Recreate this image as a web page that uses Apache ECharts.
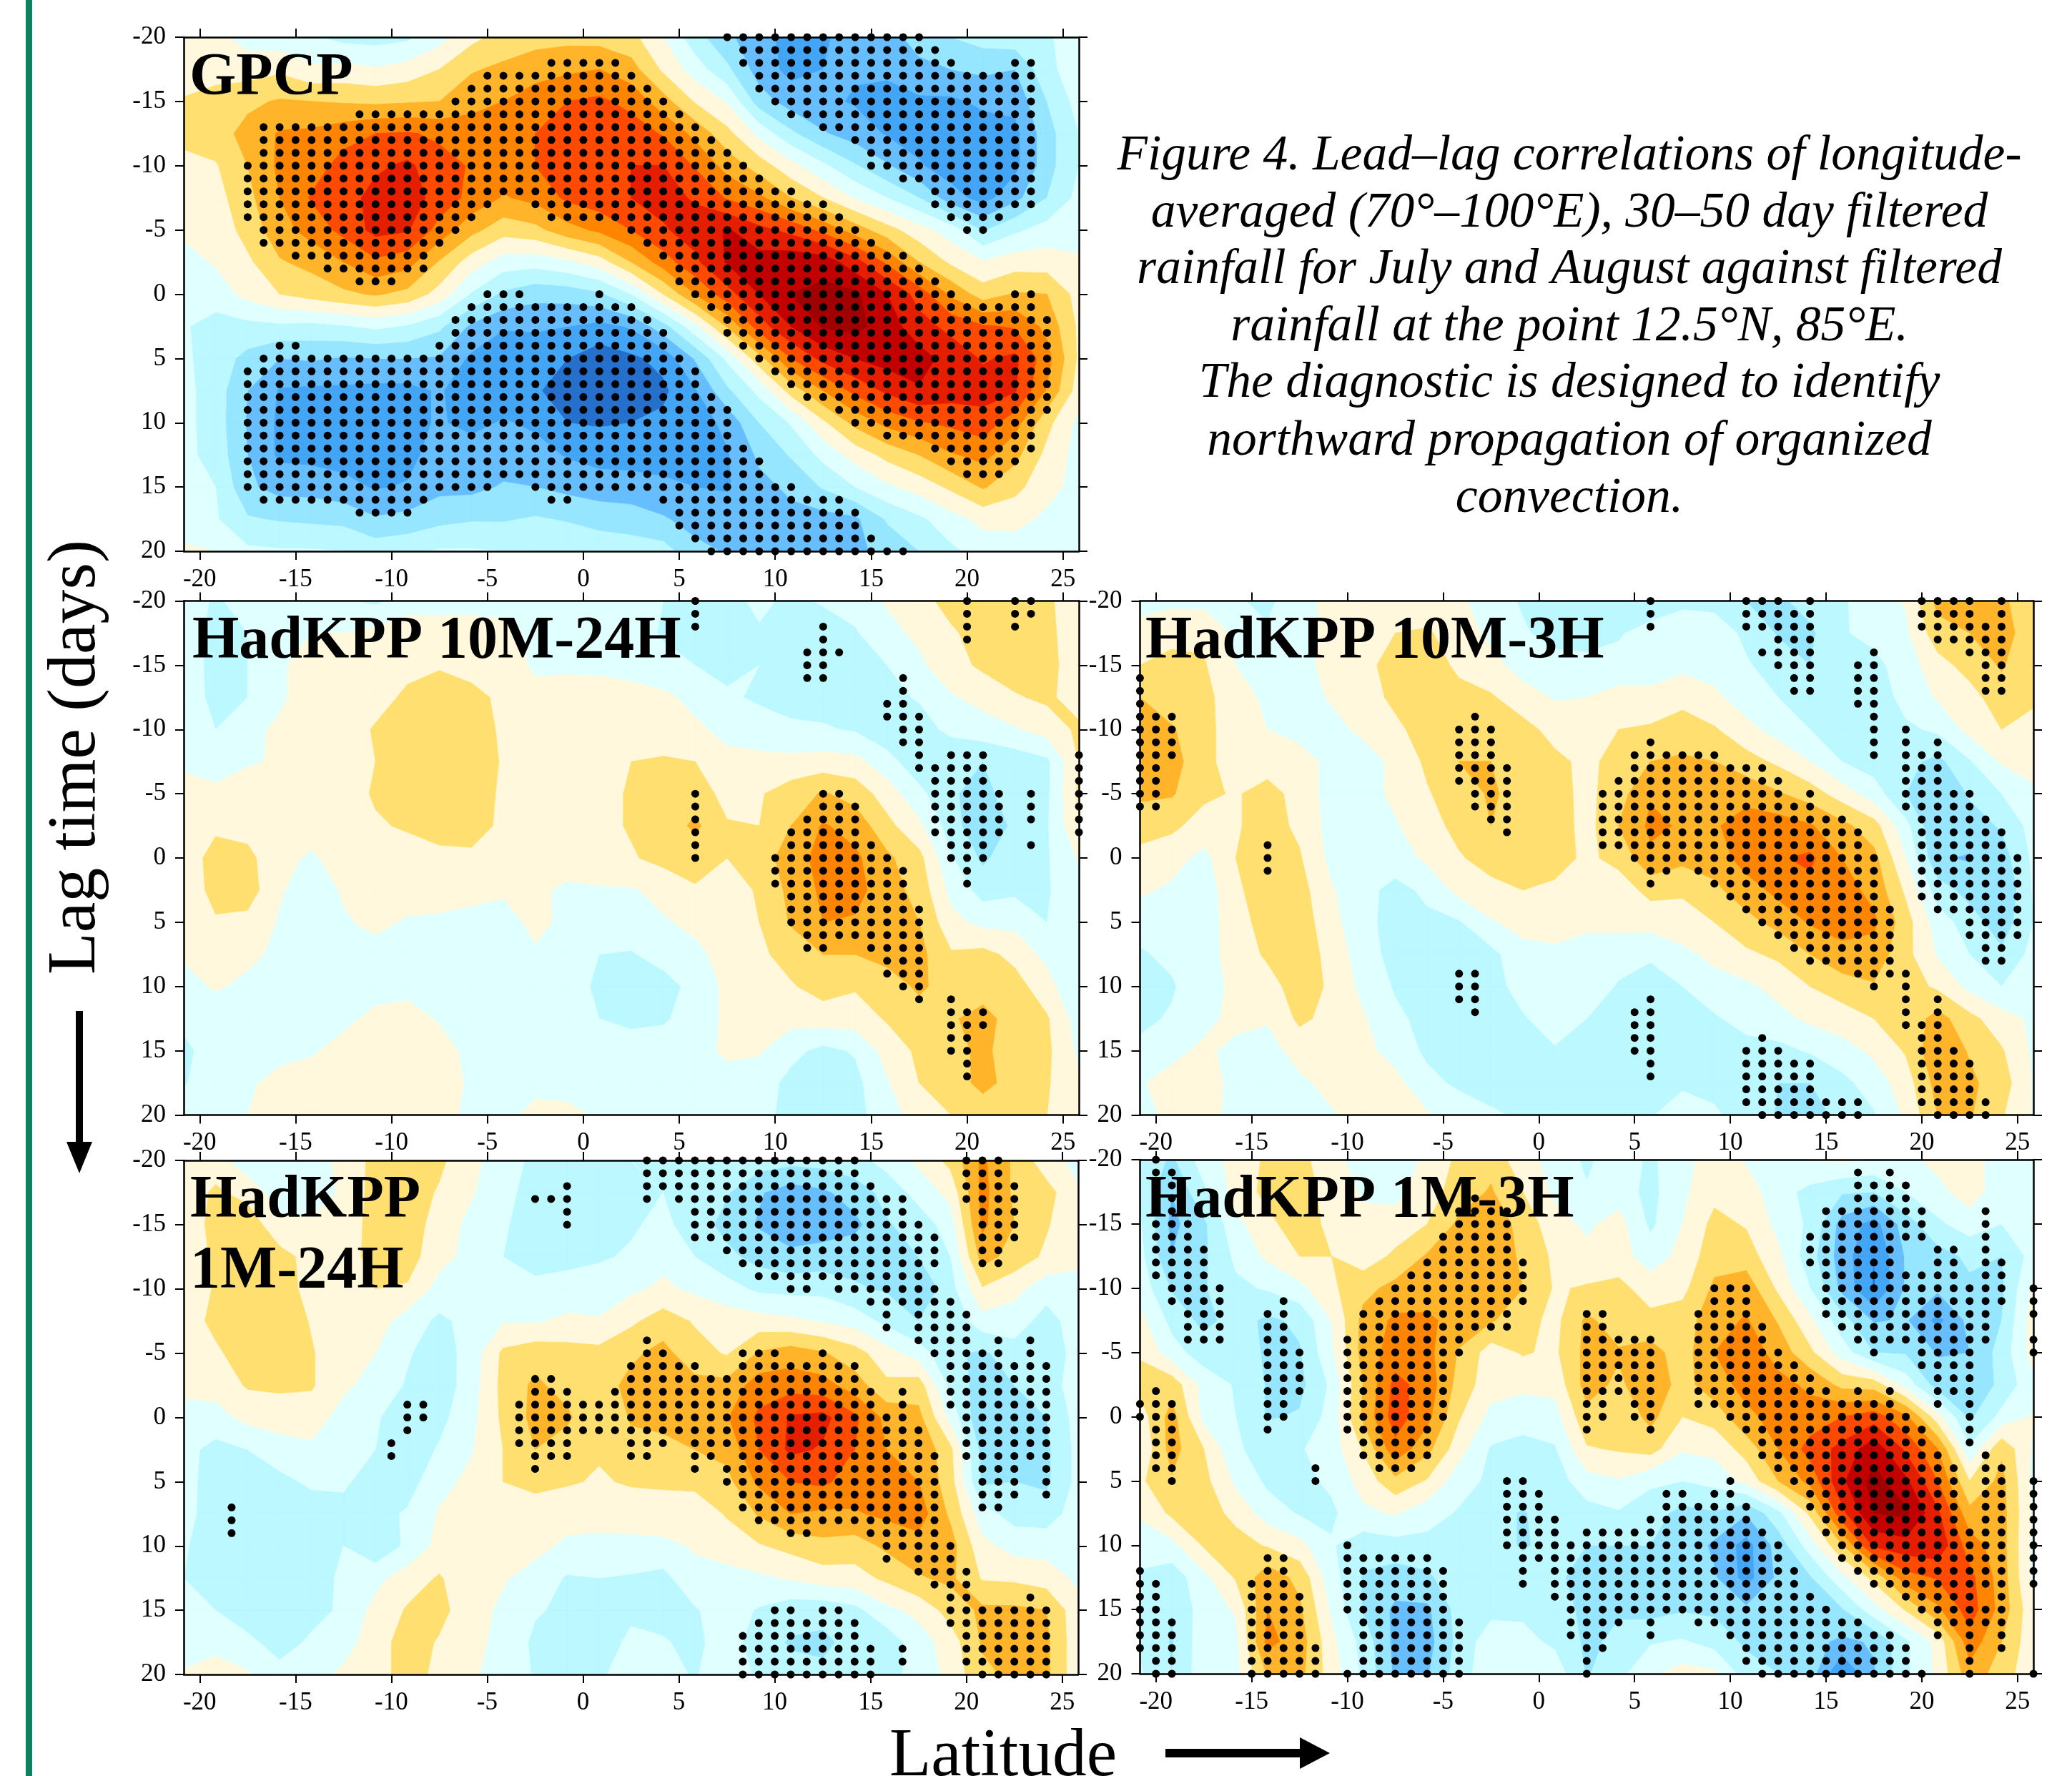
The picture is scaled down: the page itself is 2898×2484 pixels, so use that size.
<!DOCTYPE html>
<html><head><meta charset="utf-8">
<style>html,body{margin:0;padding:0;background:#fff}#c{width:2898px;height:2484px}</style>
<script src="https://cdn.jsdelivr.net/npm/echarts@6/dist/echarts.min.js"></script>
</head><body><div id="c"></div>
<script>
// Axis ticks
const latTicks = [-20,-15,-10,-5,0,5,10,15,20,25];
const lagTicks = [-20,-15,-10,-5,0,5,10,15,20];
// Contour grid coordinates
const gridLats = [-20.83,-19.17,-17.5,-15.83,-14.17,-12.5,-10.83,-9.17,-7.5,-5.83,-4.17,-2.5,-0.83,0.83,2.5,4.17,5.83,7.5,9.17,10.83,12.5,14.17,15.83,17.5,19.17,20.83,22.5,24.17,25.83];
const gridLags = [-20,-17.5,-15,-12.5,-10,-7.5,-5,-2.5,0,2.5,5,7.5,10,12.5,15,17.5,20];
// Correlation x 100, one row per lag in gridLags, one value per latitude in gridLats
const gpcpValues = [
[5,3,-4,-6,-9,-13,-14,-12,-4,7,14,16,17,16,13,0,-16,-28,-36,-44,-41,-37,-33,-27,-20,-16,-14,-11,-6],
[4,6,5,8,2,3,1,4,10,19,22,26,28,30,24,8,-5,-18,-35,-43,-40,-39,-38,-32,-30,-28,-30,-13,-4],
[11,14,18,21,20,19,18,19,20,26,30,35,40,42,37,24,9,-1,-25,-35,-38,-41,-44,-42,-42,-38,-37,-20,-6],
[13,16,23,31,32,36,40,41,38,36,37,40,46,48,45,39,27,13,-3,-18,-29,-35,-41,-44,-45,-45,-43,-24,-10],
[7,9,20,32,35,44,48,52,44,39,36,40,47,49,50,50,39,26,15,3,-8,-19,-29,-39,-45,-46,-43,-24,-10],
[4,6,17,30,41,45,54,55,46,37,29,33,42,46,50,53,49,39,32,20,10,-1,-10,-20,-36,-44,-33,-20,-7],
[2,3,14,26,34,43,53,51,36,23,14,17,26,32,40,49,54,61,53,47,37,25,14,4,-5,-21,-12,-6,-3],
[-4,1,8,19,23,30,38,34,19,5,-5,-6,-2,5,20,35,48,61,64,67,66,54,38,20,8,1,5,5,1],
[-8,-5,3,10,14,18,21,17,6,-11,-22,-27,-26,-22,-10,10,30,46,60,70,73,72,60,46,28,15,21,20,6],
[-9,-14,-13,-12,-13,-11,-8,-11,-18,-32,-39,-38,-40,-43,-39,-24,-3,21,45,60,71,73,65,54,47,41,39,27,8],
[-8,-15,-23,-30,-29,-31,-30,-30,-31,-42,-47,-49,-50,-56,-52,-47,-29,-8,16,40,53,60,64,64,56,49,52,34,8],
[-7,-15,-30,-41,-42,-42,-43,-43,-39,-46,-48,-49,-54,-57,-56,-52,-41,-22,-7,14,30,43,52,59,55,54,51,29,5],
[-7,-15,-31,-42,-42,-43,-43,-43,-39,-43,-39,-42,-50,-51,-50,-48,-46,-37,-20,-9,8,23,33,39,42,46,34,13,-3],
[-7,-14,-30,-42,-43,-44,-45,-44,-34,-35,-35,-36,-41,-44,-44,-44,-44,-41,-28,-19,-7,4,13,20,29,33,23,7,-4],
[-5,-10,-28,-34,-34,-37,-41,-39,-33,-33,-29,-30,-33,-35,-36,-38,-40,-41,-33,-28,-19,-10,-2,4,12,21,13,3,-3],
[-3,-9,-19,-21,-22,-23,-29,-27,-23,-21,-21,-19,-21,-24,-25,-29,-34,-35,-33,-33,-34,-32,-19,-12,-4,3,3,-2,-4],
[1,0,-8,-9,-9,-10,-14,-12,-9,-9,-10,-10,-11,-13,-15,-16,-27,-31,-33,-34,-35,-33,-26,-20,-12,-6,-5,-4,-4]];
const had10m24hValues = [
[-6,-11,-7,-5,-4,-9,-12,-5,-5,-4,-4,-3,-3,-4,-5,-10,-13,-13,-8,-12,-9,-6,1,5,15,17,20,12,3],
[-5,-13,-10,-2,0,0,3,6,6,5,3,-2,-2,-3,-6,-11,-14,-14,-11,-12,-15,-11,-3,2,8,16,12,13,3],
[-5,-13,-10,-1,3,3,5,7,9,5,3,-1,-2,-3,-5,-7,-10,-14,-10,-13,-15,-13,-10,-2,6,12,15,14,3],
[-4,-13,-10,-2,6,2,6,12,15,14,7,2,5,6,5,2,-3,-8,-12,-12,-14,-11,-13,-9,-1,3,9,12,5],
[-3,-10,-3,2,5,5,11,14,16,16,8,3,5,6,7,5,2,-3,-4,-9,-9,-11,-17,-15,-7,-4,-1,4,12],
[-2,-4,-1,1,4,5,10,15,17,16,9,2,5,6,10,11,10,3,2,3,4,3,-6,-17,-20,-20,-16,-12,10],
[4,2,5,3,4,6,11,16,18,16,8,5,6,7,11,13,16,6,9,15,21,16,5,-7,-19,-23,-15,-12,12],
[7,9,6,2,3,5,9,11,13,16,7,5,6,7,11,14,22,11,10,20,31,26,13,2,-15,-30,-17,-11,9],
[7,12,13,2,-1,3,5,6,8,7,4,4,5,6,9,13,14,10,14,26,33,32,22,13,-9,-22,-13,-11,1],
[4,13,15,1,-5,1,2,4,5,3,1,2,-2,-1,-1,3,9,6,11,23,32,33,25,16,-3,-14,-12,-11,-3],
[2,9,7,-1,-5,-1,2,-1,-2,-3,-3,2,-2,-3,-3,-1,2,5,10,21,30,29,22,20,3,-3,-3,-10,-4],
[1,3,2,-2,-7,-3,-3,-4,-3,-3,-3,-1,-3,-10,-11,-5,-2,3,8,14,20,20,24,23,11,13,7,-3,-9],
[-3,1,-2,-4,-9,-4,-3,-3,-3,-3,-3,-1,-3,-13,-13,-15,-6,2,6,9,14,11,14,22,15,16,14,4,-10],
[-8,-5,-3,-3,-3,-2,2,4,-1,-3,-3,-1,-3,-10,-13,-12,-3,1,4,3,5,5,11,15,19,23,16,11,-5],
[-12,-6,-3,-2,-1,3,5,7,4,-3,-3,-1,-3,-3,-4,-2,-2,1,1,-7,-13,-9,4,12,17,22,15,12,-2],
[-11,-3,-1,2,4,6,5,8,6,-2,-2,-1,-3,-4,-3,-2,-1,-2,-5,-13,-16,-13,-1,10,15,23,16,11,1],
[-3,-1,0,4,5,6,6,6,3,-2,-1,1,2,-1,-2,-1,0,-4,-7,-13,-15,-14,-3,3,10,14,11,10,2]];
const had10m3hValues = [
[-4,-3,-3,-9,-12,-4,3,4,5,5,2,-6,-11,-12,-12,-13,-17,-13,-13,-20,-22,-16,-11,-6,1,23,22,22,13],
[4,9,8,-2,-9,-3,2,5,10,11,6,-3,-9,-13,-13,-11,-6,-2,-5,-12,-21,-22,-11,-7,-2,16,20,25,13],
[10,11,11,0,-10,-3,3,7,14,15,8,4,-5,-7,-8,-7,-9,-3,-4,-9,-14,-20,-11,-13,-5,6,14,21,12],
[20,14,13,4,-2,-4,1,6,12,14,13,11,5,-1,0,4,5,8,2,-5,-10,-19,-12,-17,-6,1,6,16,11],
[21,21,13,5,0,-5,-3,2,8,14,17,17,13,7,2,10,11,13,11,3,-4,-10,-13,-20,-12,-8,3,10,8],
[21,24,13,5,5,6,-4,-4,2,12,20,20,16,12,8,13,20,22,20,14,8,0,-10,-15,-17,-23,-11,1,4],
[22,21,12,9,14,6,-4,-4,2,9,16,21,17,14,7,16,29,27,26,27,21,15,5,-5,-20,-30,-19,-10,-2],
[14,12,6,9,14,8,-4,-6,-1,6,13,20,18,16,6,20,32,29,29,34,35,31,23,14,-7,-30,-24,-19,-6],
[7,4,-3,10,14,11,-3,-7,-5,2,9,14,16,14,8,13,28,23,24,35,39,42,30,23,0,-29,-31,-25,-8],
[2,-2,-7,9,13,14,1,-7,-13,-8,3,7,10,8,5,5,13,11,18,25,33,37,34,27,8,-15,-24,-30,-9],
[-7,-4,-8,8,12,16,3,-7,-14,-12,-11,-1,3,4,1,3,4,7,10,17,23,31,34,32,14,-5,-15,-26,-10],
[-11,-8,-3,3,12,17,6,-5,-14,-15,-15,-13,-3,-2,-2,-6,-9,-3,3,8,12,20,27,26,13,-1,-10,-18,-7],
[-14,-11,-4,2,5,16,8,-3,-11,-16,-19,-14,-6,-3,-4,-11,-13,-10,-5,-2,3,10,15,19,15,8,-3,-10,-4],
[-12,-9,-3,3,1,12,7,1,-8,-13,-16,-16,-11,-5,-10,-13,-19,-13,-11,-7,-3,2,5,10,13,24,13,4,-2],
[-8,-3,2,-3,-4,4,8,3,-4,-12,-15,-15,-15,-11,-12,-15,-18,-13,-13,-13,-13,-9,-4,2,11,28,19,11,-2],
[-1,4,6,-4,-3,-2,3,5,3,-7,-12,-13,-13,-12,-12,-13,-15,-12,-12,-15,-20,-20,-13,-5,5,24,22,15,-1],
[-4,3,5,-4,-3,-4,-1,4,5,1,-4,-9,-11,-12,-11,-12,-11,-4,-9,-13,-21,-23,-18,-11,2,20,21,11,-1]];
const had1m24hValues = [
[4,4,-6,-7,-5,3,13,17,12,3,-6,-12,-13,-13,-10,-11,-12,-13,-15,-17,-16,-14,-6,2,13,32,18,4,-3],
[3,12,6,-5,-7,2,14,15,9,1,-7,-14,-15,-16,-11,-10,-13,-19,-29,-35,-32,-25,-17,-6,3,33,18,14,1],
[4,13,17,2,2,4,14,15,6,-3,-9,-14,-15,-16,-11,-8,-14,-24,-31,-35,-35,-33,-21,-16,-5,32,20,11,2],
[3,12,18,14,6,5,14,14,4,-4,-10,-13,-13,-11,-9,-3,-10,-17,-24,-28,-26,-23,-26,-20,-10,24,16,8,2],
[3,11,18,17,5,3,10,9,-4,-8,-8,-8,-6,-6,-2,2,-2,-6,-12,-13,-13,-19,-21,-29,-14,9,3,-6,-3],
[4,13,18,18,9,3,5,-5,-12,-7,-1,-1,2,1,8,15,9,5,4,2,-1,-4,-13,-20,-18,-4,-5,-14,-5],
[3,8,16,17,11,2,0,-9,-15,-6,12,16,14,13,18,23,14,9,21,25,21,14,4,-5,-18,-22,-14,-15,-7],
[2,4,11,12,11,2,-4,-11,-16,-5,13,22,16,15,23,24,23,23,35,36,34,25,12,15,-13,-25,-20,-13,-7],
[-3,-4,3,4,5,-4,-9,-15,-13,-3,12,23,22,10,21,22,24,29,42,51,53,42,27,23,-3,-30,-23,-20,-6],
[-7,-13,-10,-4,-2,-5,-10,-16,-9,-1,10,20,14,11,17,18,20,23,40,52,49,40,30,29,12,-24,-28,-22,-7],
[-7,-14,-13,-13,-8,-9,-13,-14,-4,3,10,14,11,9,11,11,13,17,32,40,42,35,31,30,14,-22,-20,-22,-7],
[-8,-13,-15,-15,-16,-12,-13,-9,1,4,8,3,4,4,5,7,3,11,21,30,28,29,32,35,18,-6,-14,-15,-5],
[-9,-15,-17,-16,-14,-10,-18,-8,3,4,4,3,-2,-3,-3,-3,1,4,9,13,17,15,22,26,24,3,-4,-4,-4],
[-10,-14,-17,-15,-15,-8,-3,5,11,3,1,-4,-11,-10,-11,-13,-3,-3,-2,1,5,6,12,19,22,9,8,5,-2],
[-7,-10,-17,-19,-14,-8,3,11,13,4,-2,-9,-12,-14,-12,-14,-11,-5,-11,-16,-17,-13,-3,3,14,22,22,20,3],
[-5,-3,-7,-15,-8,-4,5,15,9,3,-3,-12,-14,-15,-8,-9,-13,-4,-16,-21,-22,-17,-16,-5,5,21,21,22,3],
[1,4,1,-6,-4,2,5,15,7,1,-3,-11,-13,-12,-4,-6,-11,-3,-12,-17,-18,-15,-13,-7,3,18,22,22,3]];
const had1m3hValues = [
[-11,-22,-5,3,12,13,4,-6,-8,3,12,17,3,-3,-12,-4,-12,-3,4,-1,-2,0,2,-1,-3,3,4,-5,-3],
[-11,-30,-12,4,13,16,5,-1,-3,5,15,21,10,-2,-9,-5,-13,-2,7,5,-6,-13,-19,-20,-10,-3,5,-6,-5],
[-9,-33,-22,-3,7,16,7,2,4,10,22,27,16,4,-2,4,-12,0,13,9,-3,-12,-34,-44,-25,-12,-5,-10,-6],
[-7,-30,-22,-8,2,10,10,4,12,21,24,27,18,8,3,4,-5,3,16,15,2,-16,-35,-50,-29,-24,-18,-20,-6],
[-4,-21,-21,-12,-9,-3,8,17,23,24,25,26,20,9,11,13,5,7,22,26,8,-10,-33,-51,-29,-28,-22,-22,2],
[3,-13,-23,-16,-22,-18,0,23,32,32,26,21,14,7,22,15,13,15,26,31,19,2,-16,-31,-29,-43,-27,-20,5],
[9,-6,-15,-13,-22,-21,-2,24,35,33,19,5,11,8,23,21,24,15,30,36,26,12,-5,-20,-21,-31,-30,-16,4],
[13,16,-4,-11,-21,-23,-8,20,43,36,16,4,2,3,24,18,27,16,26,33,33,28,17,15,-4,-25,-30,-17,-3],
[5,24,-3,-10,-21,-19,-6,22,45,33,11,-3,-5,-4,17,12,23,10,14,28,33,34,40,45,32,4,-22,-7,1],
[1,24,10,-9,-13,-11,-5,11,37,23,4,-11,-14,-11,9,11,14,1,3,14,30,44,53,66,48,30,-8,18,-2],
[8,19,13,-2,-12,-13,-8,4,17,9,-6,-12,-14,-15,-4,-1,-8,-10,-7,3,20,33,58,74,62,40,10,23,-3],
[1,12,15,7,-5,-11,-12,-2,1,-6,-11,-16,-21,-14,-14,-11,-16,-23,-21,-29,-13,12,47,70,72,52,23,24,-2],
[-4,-3,11,14,9,3,-9,-16,-14,-13,-12,-16,-21,-17,-20,-20,-20,-23,-32,-44,-26,-5,19,52,56,57,35,24,-3],
[-12,-16,-3,11,26,17,-6,-21,-25,-22,-13,-14,-16,-19,-22,-21,-26,-23,-29,-44,-28,-21,-3,13,36,41,43,25,-3],
[-13,-20,-5,1,30,22,-2,-21,-32,-32,-16,-13,-12,-13,-24,-21,-24,-21,-22,-28,-28,-21,-21,-4,11,28,45,26,2],
[-11,-21,-4,-3,33,25,3,-14,-33,-34,-17,-4,-7,-12,-22,-18,-11,-9,-14,-22,-26,-27,-32,-29,-12,3,36,20,3],
[-9,-20,-4,-3,21,23,5,-12,-32,-31,-15,-3,-3,-4,-21,-13,-2,4,2,-15,-20,-25,-51,-31,-12,2,26,15,3]];
// Stippled (significant) points: [lag, firstIndex, lastIndex, firstIndex, lastIndex, ...]; latitude = -20 + index * 5/6
const gpcpDots = [[-20,33,45],[-19,34,46],[-18,22,26,34,47,51,52],[-17,18,27,35,52],[-16,17,28,35,52],[-15,16,29,36,52],[-14,10,30,37,52],[-13,4,31,39,52],[-12,4,32,41,52],[-11,4,33,42,52],[-10,3,34,42,52],[-9,3,35,44,52],[-8,3,37,46,52],[-7,3,18,21,39,46,52],[-6,3,17,22,40,47,50],[-5,4,16,27,41,48,49],[-4,4,15,28,42],[-3,6,14,29,44],[-2,8,14,30,45],[-1,10,12,30,46],[0,18,20,25,25,31,47,51,52],[1,17,27,32,52],[2,16,28,33,53],[3,16,29,33,53],[4,5,6,15,29,34,53],[5,4,30,35,53],[6,3,31,36,53],[7,3,31,37,53],[8,3,32,38,53],[9,3,33,40,53],[10,3,33,41,52],[11,3,33,43,52],[12,3,34,46,52],[13,3,35,47,51],[14,3,35,48,50],[15,3,18,21,37],[16,4,14,22,23,29,40],[17,10,13,30,41],[18,30,41],[19,31,42],[20,32,44]];
const had10m24hDots = [[-20,31,31,48,48,51,52],[-19,31,31,48,48,51,52],[-18,31,31,39,39,48,48,51,51],[-17,39,39,48,48],[-16,38,40],[-15,38,39],[-14,38,39,44,44],[-13,44,44],[-12,43,44],[-11,43,45],[-10,44,45],[-9,44,45],[-8,45,45,47,49,55,55],[-7,45,49,55,55],[-6,46,49,55,55],[-5,31,31,39,40,46,50,52,52,55,55],[-4,31,31,39,41,46,50,52,52,55,55],[-3,31,31,38,41,46,50,52,52,55,55],[-2,31,31,37,41,46,50,55,55],[-1,31,31,37,42,47,49,52,52],[0,31,31,36,43,47,49],[1,36,44,48,48],[2,36,44,48,48],[3,37,44],[4,37,45],[5,37,45],[6,38,45],[7,38,39,42,45],[8,43,45],[9,43,45],[10,44,45],[11,45,45,47,47],[12,47,49],[13,47,49],[14,47,48],[15,47,48],[16,48,48],[17,48,48]];
const had10m3hDots = [[-20,31,31,37,39,41,41,48,51,53,53],[-19,31,31,37,41,48,51,53,53],[-18,31,31,37,41,48,53],[-17,39,41,49,53],[-16,38,41,45,45,51,53],[-15,39,41,44,45,52,53],[-14,-1,-1,40,41,44,45,52,53],[-13,-1,-1,40,41,44,45,52,53],[-12,-1,-1,44,45],[-11,-1,1,20,20,45,45],[-10,-1,1,19,21,45,45,47,47],[-9,-1,1,19,21,31,31,45,45,47,47,49,49],[-8,-1,1,19,21,30,35,45,45,47,49],[-7,-1,0,19,22,30,38,47,49],[-6,-1,0,19,22,29,39,47,49],[-5,-1,0,20,22,28,39,41,41,47,51],[-4,-1,0,20,22,28,41,47,51],[-3,21,22,28,43,48,52],[-2,22,22,28,44,48,53],[-1,7,7,28,44,48,53],[0,7,7,30,45,48,54],[1,7,7,31,32,34,45,48,54],[2,31,31,35,45,48,54],[3,36,45,48,54],[4,37,46,49,54],[5,38,46,51,54],[6,39,46,51,54],[7,40,46,52,53],[8,41,46,52,53],[9,19,20,44,47],[10,19,20,45,45,47,47],[11,19,20,31,31,47,47,49,49],[12,20,20,30,31,47,47,49,49],[13,30,31,47,49],[14,30,31,38,38,48,49],[15,30,31,37,39,48,50],[16,31,31,37,41,48,51],[17,31,31,37,41,48,51],[18,37,41,48,51],[19,37,44,48,52],[20,38,44,49,52]];
const had1m24hDots = [[-20,28,41,48,50],[-19,28,41,48,50],[-18,23,23,28,42,48,51],[-17,21,23,28,28,30,44,48,51],[-16,23,23,31,44,49,51],[-15,23,23,31,45,49,51],[-14,31,46,49,51],[-13,33,46,49,50],[-12,34,46,49,50],[-11,35,45],[-10,37,38,40,46],[-9,42,47],[-8,43,43,45,48],[-7,43,43,45,48],[-6,28,28,45,48,50,50,52,52],[-5,28,29,34,36,39,39,46,50,52,52],[-4,27,31,34,41,47,53],[-3,21,22,27,41,47,53],[-2,21,23,26,42,44,44,47,53],[-1,13,14,20,42,44,44,47,53],[0,13,14,20,44,48,53],[1,13,13,20,45,48,53],[2,12,12,20,23,27,29,31,45,48,53],[3,12,12,21,23,27,28,31,32,34,46,48,53],[4,21,21,31,31,33,46,49,51,53,53],[5,33,46,49,51,53,53],[6,34,46,49,51,53,53],[7,2,2,34,46,49,50],[8,2,2,35,46],[9,2,2,37,38,42,46],[10,43,47],[11,43,43,45,47],[12,45,48],[13,46,48],[14,47,48,52,52],[15,36,37,39,40,47,53],[16,35,41,47,53],[17,34,41,48,53],[18,34,42,44,44,48,53],[19,34,42,44,44,48,53],[20,34,42,49,53]];
const had1m3hDots = [[-20,0,0],[-19,0,1,44,44,46,46],[-18,0,1,44,47],[-17,0,1,20,20,44,47],[-16,0,1,19,22,42,48,52,52],[-15,0,2,19,22,42,48,52,52],[-14,0,2,18,22,41,48,52,52],[-13,0,3,18,22,41,46,49,50,52,52],[-12,0,3,17,23,41,46,49,50,52,53],[-11,0,3,16,23,42,50,52,53],[-10,1,4,15,23,35,37,42,53,55,55],[-9,1,4,8,8,14,23,35,37,42,53,55,55],[-8,2,4,7,8,13,22,27,28,34,37,42,52,55,55],[-7,2,4,7,8,13,22,27,28,34,38,43,52],[-6,2,4,7,8,12,19,27,31,34,38,44,52,55,55],[-5,7,9,12,19,27,31,34,39,45,45,48,51,55,55],[-4,7,9,12,18,27,31,34,40,48,51],[-3,7,9,12,18,27,31,34,41,49,51],[-2,0,0,7,9,12,18,27,31,34,42,44,44,46,46,49,51],[-1,-1,1,7,8,12,18,27,28,30,31,34,46,49,49,51,51],[0,-1,1,7,8,12,18,27,28,30,31,36,47,51,51],[1,0,1,7,7,12,17,27,27,31,31,37,48,51,51],[2,0,1,13,17,38,48,51,51],[3,0,1,13,17,38,49,52,52],[4,0,1,10,10,14,16,39,50,52,53],[5,1,1,10,10,22,23,36,36,40,50,52,53,55,55],[6,22,24,32,33,35,36,41,50,52,53,55,55],[7,22,24,32,37,41,50,52,53,55,55],[8,22,25,31,37,42,50,52,53,55,55],[9,22,25,27,38,42,53,55,55],[10,12,12,22,39,43,53,55,55],[11,7,8,12,17,23,24,25,39,43,53,55,55],[12,-1,-1,7,8,12,18,23,23,25,40,44,53,55,55],[13,-1,0,6,8,12,18,23,23,25,40,45,53,55,55],[14,-1,0,6,9,12,18,25,41,47,51,53,53],[15,-1,0,6,9,12,18,26,42,48,53],[16,-1,1,6,9,13,19,26,29,31,31,34,44,49,53],[17,-1,1,6,9,13,19,26,28,31,31,36,46,49,49,51,51,53,53],[18,-1,1,6,10,13,19,27,28,37,47,51,51,53,53],[19,0,1,6,10,13,19,27,27,37,47,51,51],[20,0,1,6,10,12,19,27,27,38,48,51,51,55,55]];
// Text
const panelTitles = ["GPCP","HadKPP 10M-24H","HadKPP 10M-3H","HadKPP\n1M-24H","HadKPP 1M-3H"];
const captionLines = ["Figure 4. Lead\u2013lag correlations of longitude-","averaged (70\u00b0\u2013100\u00b0E), 30\u201350 day filtered","rainfall for July and August against filtered","rainfall at the point 12.5\u00b0N, 85\u00b0E.","The diagnostic is designed to identify","northward propagation of organized","convection."];
// Contour levels and fill colours (band i lies between levels[i-1] and levels[i])
const levels = [-50,-40,-30,-20,-10,0,10,20,30,40,50,60,70];
const bandColors = ["#2470CC","#42A5F5","#66BEFF","#96E6FF","#BBF8FF","#E0FFFF","#FFF8DC","#FFDF70","#FFB429","#FF8400","#FF4A00","#E51E00","#C20000","#A00000"];

const FONT = '"Liberation Serif"';
const panels = [
 {rows:gpcpValues, dots:gpcpDots, l:257, t:52, w:1252, h:719, title:[265,132]},
 {rows:had10m24hValues, dots:had10m24hDots, l:257, t:840.5, w:1252, h:719, title:[269,920]},
 {rows:had10m3hValues, dots:had10m3hDots, l:1594.5, t:840.5, w:1249.5, h:719, title:[1602,920]},
 {rows:had1m24hValues, dots:had1m24hDots, l:257, t:1623, w:1251, h:719, title:[266,1702]},
 {rows:had1m3hValues, dots:had1m3hDots, l:1594.5, t:1622, w:1249.5, h:719, title:[1602,1702]}
];
function cells(rows){
  const out=[];
  for(let j=0;j<gridLags.length-1;j++)for(let i=0;i<gridLats.length-1;i++){
    out.push([gridLats[i],gridLags[j],gridLats[i+1],gridLags[j+1],rows[j][i],rows[j][i+1],rows[j+1][i+1],rows[j+1][i]]);
  }
  return out;
}
function dotPoints(runs){
  const out=[];
  runs.forEach(r=>{for(let p=1;p<r.length;p+=2)for(let k=r[p];k<=r[p+1];k++)out.push([-20+k*5/6,r[0]]);});
  return out;
}
function clipAbove(poly,lv){
  const res=[];
  for(let i=0;i<poly.length;i++){
    const a=poly[i],b=poly[(i+1)%poly.length];
    const ain=a[2]>=lv,bin=b[2]>=lv;
    if(ain)res.push(a);
    if(ain!==bin){const t=(lv-a[2])/(b[2]-a[2]);res.push([a[0]+t*(b[0]-a[0]),a[1]+t*(b[1]-a[1]),lv]);}
  }
  return res;
}
// One series per band, painted from the lowest band upward: each one fills everything at or above its lower level.
function bandRenderer(b){
  return function(params,api){
    const p0=api.coord([api.value(0),api.value(1)]),p1=api.coord([api.value(2),api.value(1)]);
    const p2=api.coord([api.value(2),api.value(3)]),p3=api.coord([api.value(0),api.value(3)]);
    const quad=[[p0[0],p0[1],api.value(4)],[p1[0],p1[1],api.value(5)],[p2[0],p2[1],api.value(6)],[p3[0],p3[1],api.value(7)]];
    const poly=b===0?quad:clipAbove(quad,levels[b-1]);
    if(poly.length<3)return null;
    return {type:'polygon',shape:{points:poly.map(q=>[q[0],q[1]])},style:{fill:bandColors[b],stroke:bandColors[b],lineWidth:0.8}};
  };
}
const grid=[],xAxis=[],yAxis=[],series=[],graphic=[];
const lineStyle={color:'#000',width:2.5};
panels.forEach((p,n)=>{
  grid.push({left:p.l,top:p.t,width:p.w,height:p.h});
  const xBase={type:'value',gridIndex:n,min:-20.83,max:25.83,splitLine:{show:false},z:3,axisLine:{show:true,onZero:false,lineStyle},axisTick:{show:true,inside:false,length:12,lineStyle:{color:'#000',width:2},customValues:latTicks}};
  const yBase={type:'value',gridIndex:n,min:-20,max:20,inverse:true,splitLine:{show:false},z:3,axisLine:{show:true,onZero:false,lineStyle},axisTick:{show:true,inside:false,length:12,lineStyle:{color:'#000',width:2},customValues:lagTicks}};
  const lab={show:true,color:'#000',fontFamily:FONT,fontSize:35};
  xAxis.push(Object.assign({},xBase,{position:'bottom',axisLabel:Object.assign({margin:22},lab,{customValues:latTicks})}));
  xAxis.push(Object.assign({},xBase,{position:'top',axisLabel:{show:false}}));
  yAxis.push(Object.assign({},yBase,{position:'left',axisLabel:Object.assign({margin:25},lab,{customValues:lagTicks})}));
  yAxis.push(Object.assign({},yBase,{position:'right',axisLabel:{show:false}}));
  const data=cells(p.rows);
  bandColors.forEach((c,b)=>{
    series.push({type:'custom',xAxisIndex:2*n,yAxisIndex:2*n,data:data,renderItem:bandRenderer(b),encode:{x:[0,2],y:[1,3]},silent:true,clip:false,z:2,zlevel:0,progressive:0,animation:false});
  });
  series.push({type:'scatter',xAxisIndex:2*n,yAxisIndex:2*n,data:dotPoints(p.dots),symbol:'circle',symbolSize:11,itemStyle:{color:'#000',opacity:1},silent:true,clip:false,z:5,animation:false});
});
function txt(s,x,y,size,opt){
  opt=opt||{};
  graphic.push({type:'text',x:x,y:y,rotation:opt.rot||0,z:20,silent:true,style:{text:s,font:(opt.weight||'')+' '+(opt.italic?'italic ':'')+size+'px '+FONT,fill:'#000',align:opt.align||'left',verticalAlign:'middle'}});
}
const TS=84, MID=0.2542;
panels.forEach((p,n)=>{
  const parts=panelTitles[n].split('\n');
  parts.forEach((s,i)=>txt(s,p.title[0],p.title[1]+i*98.5-TS*MID,TS,{weight:'bold'}));
});
const capY=[219,299,378,458,537,618,698];
captionLines.forEach((s,i)=>txt(s,2195,capY[i],69.5,{italic:true,align:'center'}));
txt('Lag time (days)',107,1059,96,{rot:Math.PI/2,align:'center'});
txt('Latitude',1244,2482-95.5*MID,95.5);
graphic.push({type:'rect',z:20,silent:true,shape:{x:36,y:0,width:9,height:2484},style:{fill:'#0C8263'}});
graphic.push({type:'polygon',z:20,silent:true,shape:{points:[[106,1414],[116,1414],[116,1597],[129,1597],[111,1641],[93,1597],[106,1597]]},style:{fill:'#000'}});
graphic.push({type:'polygon',z:20,silent:true,shape:{points:[[1630,2446],[1818,2446],[1818,2430],[1860,2452],[1818,2474],[1818,2458],[1630,2458]]},style:{fill:'#000'}});
const chart=echarts.init(document.getElementById('c'),null,{renderer:'canvas',width:2898,height:2484});
chart.setOption({animation:false,backgroundColor:'#fff',textStyle:{fontFamily:FONT},grid,xAxis,yAxis,series,graphic});
</script></body></html>
